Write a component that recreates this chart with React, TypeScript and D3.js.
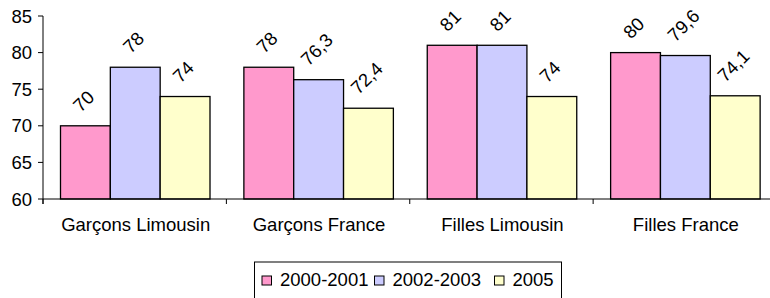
import React, { useEffect, useRef } from "react";
import * as d3 from "d3";

const categories = ["Garçons Limousin", "Garçons France", "Filles Limousin", "Filles France"];
const seriesNames = ["2000-2001", "2002-2003", "2005"];
const values2000 = [70, 78, 81, 80];
const values2002 = [78, 76.3, 81, 79.6];
const values2005 = [74, 72.4, 74, 74.1];
const yTicks = [60, 65, 70, 75, 80, 85];
const colors = ["#FF99CC", "#CCCCFF", "#FFFFCC"];

// french number format: 76,3
const frLocale = d3.formatLocale({ decimal: ",", thousands: " ", grouping: [3], currency: ["", " €"] });
const fmt = frLocale.format("~g");

function App() {
  const ref = useRef<SVGSVGElement>(null);

  useEffect(() => {
    drawChart();
  }, []);

  const drawChart = () => {
    const svg = d3.select(ref.current);
    svg.selectAll("*").remove();

    const font = "'Liberation Sans', Arial, sans-serif";
    const fs = 18.5;
    const left = 43;
    const right = 776.5;
    const top = 16;
    const bottom = 199;

    const series = [values2000, values2002, values2005];

    const x0 = d3.scaleBand<string>().domain(categories).range([left, right]).padding(0);
    const x1 = d3.scaleBand<string>().domain(seriesNames).range([17.5, 167]).padding(0);
    const y = d3.scaleLinear().domain([60, 85]).range([bottom, top]);

    const g = svg.append("g");

    // bars
    categories.forEach((cat, ci) => {
      series.forEach((vals, si) => {
        const bx = x0(cat)! + x1(seriesNames[si])!;
        g.append("rect")
          .attr("x", bx)
          .attr("y", y(vals[ci]))
          .attr("width", x1.bandwidth())
          .attr("height", y(60) - y(vals[ci]))
          .attr("fill", colors[si])
          .attr("stroke", "#000")
          .attr("stroke-width", 1.3);
      });
    });

    // axes
    g.append("line")
      .attr("x1", left).attr("x2", left)
      .attr("y1", top).attr("y2", bottom + 5)
      .attr("stroke", "#000");
    g.append("line")
      .attr("x1", left).attr("x2", right)
      .attr("y1", bottom).attr("y2", bottom)
      .attr("stroke", "#000");

    yTicks.forEach((t) => {
      g.append("line")
        .attr("x1", left - 5).attr("x2", left)
        .attr("y1", y(t)).attr("y2", y(t))
        .attr("stroke", "#000");
      g.append("text")
        .attr("x", left - 11)
        .attr("y", y(t))
        .attr("dy", "0.36em")
        .attr("text-anchor", "end")
        .attr("font-family", font)
        .attr("font-size", fs)
        .text(t);
    });

    categories.forEach((cat) => {
      g.append("line")
        .attr("x1", x0(cat)!).attr("x2", x0(cat)!)
        .attr("y1", bottom).attr("y2", bottom + 5)
        .attr("stroke", "#000");
      g.append("text")
        .attr("x", x0(cat)! + x0.bandwidth() / 2 + 1)
        .attr("y", 231)
        .attr("text-anchor", "middle")
        .attr("font-family", font)
        .attr("font-size", fs)
        .text(cat);
    });

    // value labels, rotated 45deg above each bar
    categories.forEach((cat, ci) => {
      series.forEach((vals, si) => {
        const cx = x0(cat)! + x1(seriesNames[si])! + x1.bandwidth() / 2 - 2;
        const barTop = y(vals[ci]);
        const t = g.append("text")
          .attr("text-anchor", "middle")
          .attr("dy", "0.36em")
          .attr("font-family", font)
          .attr("font-size", fs)
          .text(fmt(vals[ci]));
        let len = (t.node() as SVGTextElement).getComputedTextLength();
        if (!len) len = fmt(vals[ci]).length * fs * 0.5;
        const cy = barTop - 13 - ((len + 13) * 0.707) / 2;
        t.attr("transform", "translate(" + cx + "," + cy + ") rotate(-45)");
      });
    });

    // legend
    const lg = svg.append("g");
    lg.append("rect")
      .attr("x", 254.5).attr("y", 262)
      .attr("width", 307).attr("height", 50)
      .attr("fill", "#fff")
      .attr("stroke", "#000");
    const itemX = [262, 374.5, 494.5];
    seriesNames.forEach((name, i) => {
      lg.append("rect")
        .attr("x", itemX[i]).attr("y", 276)
        .attr("width", 9.5).attr("height", 9)
        .attr("fill", colors[i])
        .attr("stroke", "#000");
      lg.append("text")
        .attr("x", itemX[i] + 18)
        .attr("y", 286)
        .attr("font-family", font)
        .attr("font-size", fs)
        .text(name);
    });
  };

  return (
    <svg
      ref={ref}
      width={770}
      height={298}
      style={{ position: "absolute", left: 0, top: 0, background: "#fff" }}
    />
  );
}

export default App;
